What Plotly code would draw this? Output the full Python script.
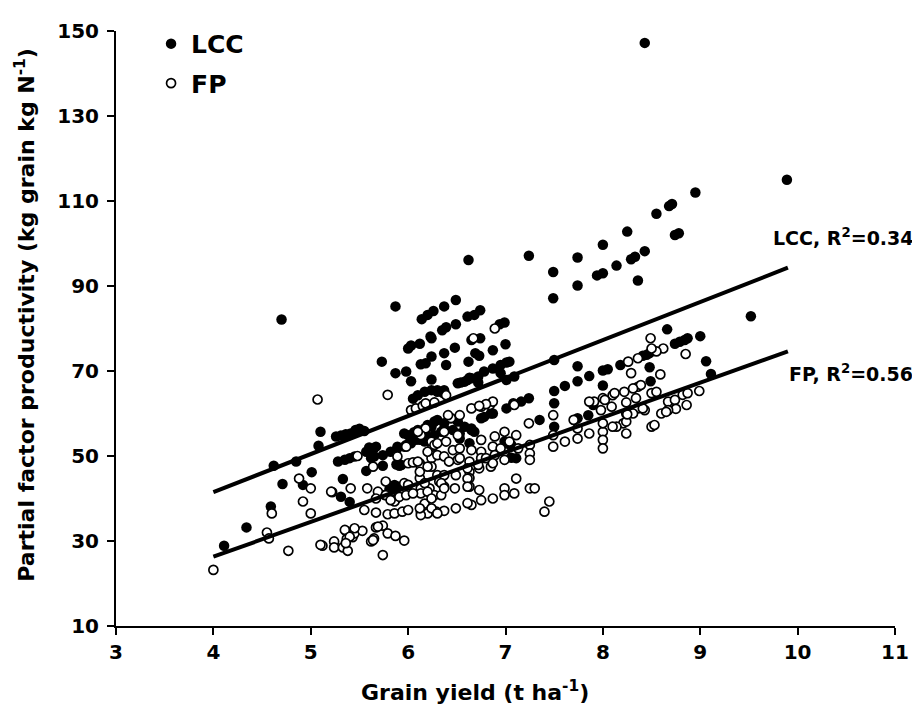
import plotly.graph_objects as go

# ---------------- data ----------------
lcc_pts = [
    (8.43,147.2),(9.89,115.0),(8.95,112.0),(8.71,109.3),(8.68,108.8),(8.55,107.0),(8.78,102.4),(8.74,102.0),
    (8.25,102.8),(8.43,98.2),(8.33,96.9),(8.29,96.3),(8.36,91.3),(8.14,94.8),(8.00,99.7),(8.00,93.0),
    (7.94,92.5),(7.74,96.7),(7.74,90.1),(7.49,93.3),(7.49,87.1),(7.24,97.1),(6.62,96.1),(9.52,82.9),
    (4.70,82.1),(5.87,85.2),
    (8.66,79.8),(9.00,78.2),(9.06,72.3),(9.11,69.3),(8.74,76.4),(8.79,76.9),(8.84,77.3),(8.87,77.7),
    (8.48,70.9),(8.49,67.6),(8.18,71.4),(8.00,70.1),(8.05,70.4),(8.00,66.6),(7.86,68.8),(7.74,71.1),
    (7.74,67.6),(7.61,66.5),(7.50,65.3),(7.50,62.4),(7.50,56.9),(7.35,58.5),(7.74,58.9),(7.24,63.6),
    (7.16,62.8),(7.01,61.2),(7.11,49.5),(7.06,49.6),(7.50,72.6),(8.45,73.8),(8.48,74.2),(8.41,73.6),
    (7.90,62.0),(7.85,59.6),
    (6.14,82.2),(6.20,83.2),(6.26,84.1),(6.37,85.2),(6.49,86.7),(6.74,84.3),(6.68,83.2),(6.61,82.8),
    (6.00,75.3),(6.03,76.0),(6.12,76.4),(6.23,78.1),(6.35,79.6),(6.39,80.3),(6.49,81.0),(5.73,72.2),
    (5.87,69.5),(5.98,69.9),(6.03,67.6),(6.13,71.6),(6.18,71.8),(6.24,73.4),(6.24,68.0),(6.37,74.2),
    (6.39,71.4),(6.48,75.5),(6.62,72.2),(6.69,74.2),(6.73,73.6),(6.74,77.7),(6.87,74.9),(6.78,69.9),
    (6.87,70.6),(6.54,67.3),(6.61,67.9),(6.94,81.0),(6.99,81.4),(6.65,77.3),(7.00,76.3),(6.95,71.4),
    (7.01,72.0),(7.04,72.2),(6.95,69.5),(7.01,67.9),(7.09,68.7),(6.63,68.4),(6.72,67.3),(6.30,65.5),
    (6.36,64.8),(6.24,77.7),
    (6.30,65.1),(6.37,65.5),(6.51,67.1),(6.58,67.5),(6.65,68.3),(6.72,68.7),(6.24,65.5),(6.17,65.1),
    (6.10,64.3),(6.05,63.5),(7.08,62.4),(6.87,60.0),(6.75,58.9),(6.78,59.2),
    (5.10,55.7),(5.08,52.4),(5.26,54.6),(5.31,54.8),(5.36,55.1),(5.41,55.3),(5.46,56.1),(5.50,56.4),
    (5.55,55.9),(4.62,47.7),(4.85,48.7),(4.71,43.4),(4.59,38.1),(4.34,33.2),(4.11,28.9),(5.01,46.2),
    (4.92,43.2),(5.28,48.7),(5.35,49.1),(5.40,49.5),(5.45,49.9),(5.57,51.0),(5.64,51.4),(5.67,52.2),
    (5.62,49.5),(5.65,49.9),(5.74,50.2),(5.57,46.5),(5.74,47.7),(5.33,44.6),(5.31,40.4),(5.40,39.2),
    (5.82,51.0),(5.88,51.4),(5.88,48.0),(5.91,47.7),(6.00,54.9),(6.06,55.6),(6.13,54.2),(6.20,54.6),
    (6.27,54.9),(6.34,55.7),(6.37,56.5),(5.81,42.4),(5.86,43.2),(5.79,41.2),(5.98,52.6),(5.60,52.0),
    (5.96,52.2),(6.03,53.0),(6.08,53.8),(6.17,53.4),(5.96,55.3),(6.20,57.3),(6.27,58.1),(5.93,47.9),
    (5.89,42.8),(5.76,40.8),(5.88,40.0),
    (6.30,58.5),(6.37,57.7),(6.51,58.1),(6.58,56.9),(6.65,56.1),(6.85,60.0),(7.04,53.0),(6.53,55.3),
    (6.10,56.1),(6.17,56.5),(6.24,56.9),(6.44,58.9),(6.46,56.1),(6.63,53.0),(6.53,54.1),(6.12,53.8),
    (5.89,52.2),(6.99,53.4),(7.06,52.6),(6.68,55.7),(6.65,56.5),
]

fp_pts = [
    (4.00,23.2),(4.77,27.7),(4.55,32.0),(4.57,30.6),(4.60,36.5),(4.92,39.3),(4.88,44.7),(5.00,42.4),
    (5.00,36.5),(5.07,63.3),(5.12,28.9),(5.24,29.9),(5.24,28.5),(5.22,41.5),(5.33,28.5),(5.38,27.7),
    (5.36,32.4),(5.37,30.5),(5.43,30.9),(5.45,31.8),(5.53,32.4),(5.41,42.4),(5.48,50.0),(5.55,37.3),
    (5.58,42.4),(5.62,29.9),(5.65,30.6),(5.67,36.7),(5.67,33.2),(5.74,33.6),(5.74,26.7),(5.79,31.8),
    (5.87,31.2),(5.96,30.1),(5.79,36.3),(5.86,36.5),(5.94,36.9),(6.00,37.3),(5.77,44.0),(5.69,41.6),
    (5.79,64.4),(5.64,47.5),(5.86,39.3),(5.91,40.4),(5.98,40.8),(5.96,43.6),(6.00,48.3),(6.05,48.5),
    (6.12,48.3),(6.13,47.5),(6.03,60.8),(6.08,61.2),(6.15,61.8),(6.18,62.4),(6.27,62.6),(6.12,44.8),
    (6.13,42.4),(6.13,41.2),(6.17,38.8),(6.13,36.9),(6.20,36.5),(6.29,36.9),(6.37,37.1),(6.49,37.7),
    (6.18,56.5),(6.25,52.2),(6.24,49.5),(6.30,50.2),(6.24,47.5),(6.30,45.5),(6.32,44.0),(6.37,42.8),
    (6.22,42.4),(6.27,40.8),(6.34,40.8),(5.21,41.6),(5.67,40.0),(5.77,40.8),(5.82,39.6),(6.00,43.2),
    (6.05,41.2),(6.17,43.6),(6.20,41.6),(6.24,40.0),(6.24,37.7),(6.13,36.1),(6.12,37.7),(5.35,32.6),
    (5.45,33.0),(5.40,31.0),(5.36,29.5),(5.64,30.2),(5.69,33.4),(5.10,29.1),(5.89,49.9),(5.98,52.2),
    (6.10,48.7),(6.12,46.3),(6.20,47.5),(6.20,51.0),(6.13,54.9),(6.24,53.4),(6.27,52.6),(6.10,55.7),
    (6.44,58.9),(6.53,59.6),(6.37,55.7),(6.51,54.9),(6.30,53.0),(6.39,53.4),(6.46,51.4),(6.53,51.8),
    (6.75,53.8),(6.89,54.6),(6.99,55.7),(7.11,54.9),(7.04,53.4),(6.87,52.2),(6.75,51.0),(6.65,51.4),
    (6.51,49.1),(6.37,49.9),(6.42,48.7),(6.53,49.5),(6.63,48.7),(6.75,49.5),(6.89,50.2),(6.99,51.0),
    (7.13,51.8),(7.25,52.6),(7.25,50.6),(7.25,49.1),(6.85,47.5),(6.73,47.1),(6.63,46.3),(6.49,45.5),
    (6.37,45.5),(6.34,43.6),(6.37,42.4),(6.48,42.4),(6.63,44.8),(6.63,42.8),(6.73,42.0),(6.87,40.0),
    (6.99,42.4),(6.99,40.8),(7.09,41.2),(7.11,44.7),(7.25,42.4),(7.30,42.4),(6.75,39.6),(6.65,38.5),
    (6.30,36.5),(7.40,36.9),(7.45,39.3),(7.49,59.6),(7.49,52.2),(7.61,53.4),(7.70,58.5),(7.74,54.1),
    (7.49,54.9),(7.74,56.5),
    (8.49,77.7),(8.36,73.0),(8.26,72.2),(8.29,69.5),(8.59,69.2),(8.62,75.3),(8.55,74.6),(8.85,74.0),
    (8.36,66.3),(8.39,66.7),(8.31,65.9),(8.22,65.1),(8.10,64.3),(8.00,63.6),(7.91,62.8),(7.86,62.8),
    (8.50,64.8),(8.55,65.1),(7.98,60.8),(8.09,61.6),(8.24,62.6),(8.34,63.6),(8.36,61.2),(8.43,60.8),
    (8.67,62.8),(8.74,63.2),(8.82,64.4),(8.87,64.8),(8.99,65.3),(8.86,62.0),(8.75,61.1),(8.67,60.8),
    (8.60,60.0),(8.31,60.0),(8.24,60.0),(8.00,55.7),(8.00,53.8),(8.00,51.8),(8.24,55.3),(8.21,57.7),
    (8.14,56.9),(8.10,56.9),(8.50,56.9),(8.53,57.3),(8.65,60.4),(7.24,57.7),(7.86,55.3),(8.00,57.7),
    (8.02,63.2),(8.12,64.8),(8.24,58.1),(8.25,59.8),(8.41,61.2),(8.50,75.3),
    (6.61,47.1),(6.61,44.7),(6.61,42.8),(6.61,38.9),(6.72,47.9),(6.80,49.5),(6.87,48.3),(6.99,49.1),
    (6.95,51.8),(6.65,61.2),(6.75,61.6),(6.84,62.0),(6.87,62.8),(6.80,62.2),(6.73,61.8),(6.41,59.6),
    (6.39,64.3),(6.67,77.7),(6.89,80.0),(7.09,62.0),
]

lcc_yield = [p[0] for p in lcc_pts]
lcc_pfp = [p[1] for p in lcc_pts]
fp_yield = [p[0] for p in fp_pts]
fp_pfp = [p[1] for p in fp_pts]

fit_x = [4.0, 9.9]
lcc_fit = [41.5, 94.3]
fp_fit = [26.3, 74.6]

x_ticks = [3, 4, 5, 6, 7, 8, 9, 10, 11]
y_ticks = [10, 30, 50, 70, 90, 110, 130, 150]

FONT = "DejaVu Sans"

fig = go.Figure()
fig.add_trace(go.Scatter(
    x=lcc_yield, y=lcc_pfp, mode="markers", name="LCC", legendgroup="a",
    marker=dict(symbol="circle", size=10.5, color="black", line=dict(width=0)),
))
fig.add_trace(go.Scatter(
    x=fp_yield, y=fp_pfp, mode="markers", name="FP", legendgroup="b",
    marker=dict(symbol="circle", size=9, color="white", line=dict(width=1.7, color="black")),
))
fig.add_trace(go.Scatter(x=fit_x, y=lcc_fit, mode="lines", showlegend=False,
                         line=dict(color="black", width=4)))
fig.add_trace(go.Scatter(x=fit_x, y=fp_fit, mode="lines", showlegend=False,
                         line=dict(color="black", width=4)))

fig.add_annotation(x=9.73, y=101.6, xref="x", yref="y", xanchor="left", yanchor="middle",
                   text="LCC, R<sup>2</sup>=0.34", showarrow=False,
                   font=dict(family=FONT, size=19, color="black", weight="bold"))
fig.add_annotation(x=9.89, y=69.5, xref="x", yref="y", xanchor="left", yanchor="middle",
                   text="FP, R<sup>2</sup>=0.56", showarrow=False,
                   font=dict(family=FONT, size=19, color="black", weight="bold"))

# axis titles placed as in the reference
fig.add_annotation(x=0.461, y=-0.110, xref="paper", yref="paper", xanchor="center", yanchor="middle",
                   text="Grain yield (t ha<sup>-1</sup>)", showarrow=False,
                   font=dict(family=FONT, size=22, color="black", weight="bold"))
fig.add_annotation(x=-0.117, y=0.523, xref="paper", yref="paper", xanchor="center", yanchor="middle",
                   textangle=-90,
                   text="Partial factor productivity (kg grain kg N<sup>-1</sup>)", showarrow=False,
                   font=dict(family=FONT, size=22, color="black", weight="bold"))

axis_common = dict(
    showgrid=False, zeroline=False, showline=True, linecolor="black", linewidth=2,
    ticks="outside", ticklen=7, tickwidth=2, tickcolor="black",
    tickfont=dict(family=FONT, size=20, color="black", weight="bold"),
)
fig.update_xaxes(range=[3, 11], tickvals=x_ticks, **axis_common)
fig.update_yaxes(range=[10, 150], tickvals=y_ticks, ticklabelstandoff=4, **axis_common)

fig.update_layout(
    width=920, height=705,
    margin=dict(l=108, r=33, t=23, b=87, autoexpand=False),
    paper_bgcolor="white", plot_bgcolor="white",
    showlegend=True,
    legend=dict(x=0.045, y=1.017, xanchor="left", yanchor="top", bgcolor="rgba(0,0,0,0)",
                traceorder="grouped", tracegroupgap=4,
                font=dict(family=FONT, size=25, color="black", weight="bold")),
)

fig.write_html("out.html")
